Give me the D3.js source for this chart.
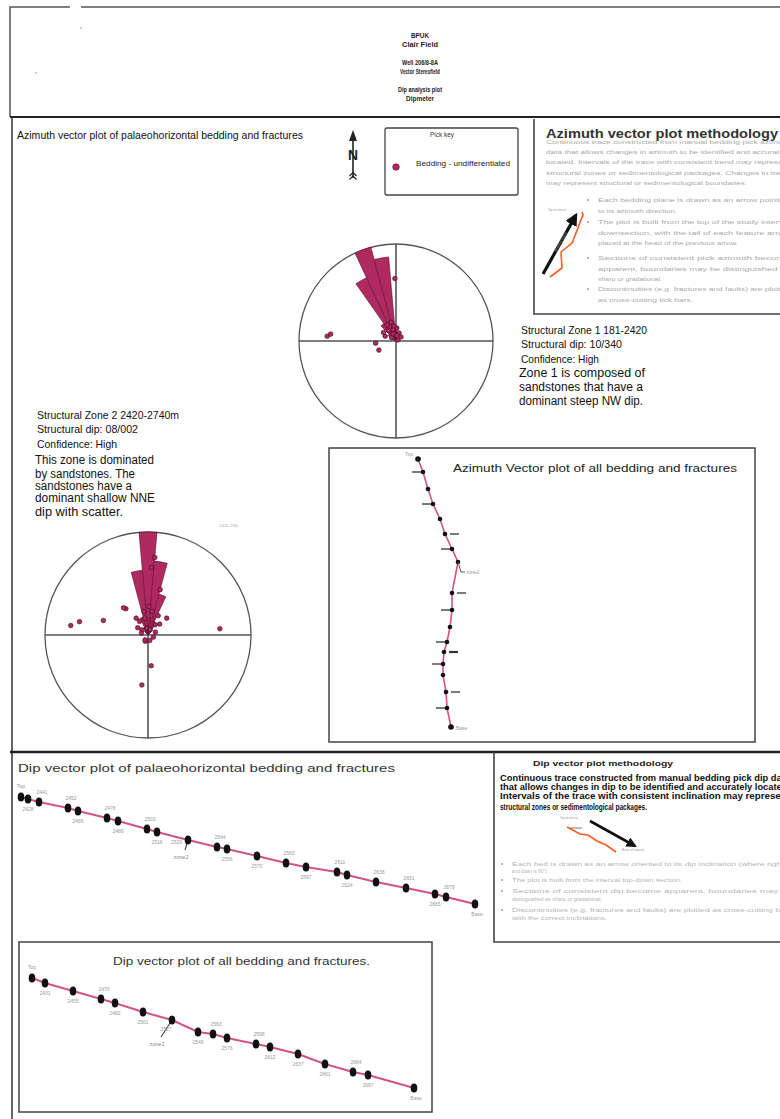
<!DOCTYPE html>
<html><head><meta charset="utf-8">
<script src="https://cdn.jsdelivr.net/npm/d3@7"></script>
<style>html,body{margin:0;padding:0;background:#fff;}svg{display:block;}</style>
</head><body>
<script>
// ---------- data ----------
const headerLines = ["BPUK", "Clair Field", "Well 206/8-8A", "Vector Stereofield", "Dip analysis plot", "Dipmeter"];

// Zone 1 rose: 10-degree azimuth bins (centre) and relative frequency
const rose1Bins = [0, 10, 20, 300, 310, 320, 330, 340, 350];
const rose1Freq = [0.12, 0.06, 0.04, 0.05, 0.10, 0.22, 0.72, 1.00, 0.87];
// Zone 1 picks: dip azimuth and dip
const rose1Az  = [359, 274, 276, 264, 242, 331, 345, 345, 4, 21, 294, 307, 63, 325, 51, 352, 304, 340, 10];
const rose1Dip = [58, 64, 61, 19, 18, 17, 18, 11, 12, 8, 11, 5, 2, 12, 6, 14, 14, 7, 5];

// Zone 2 rose
const rose2Bins = [0, 10, 20, 30, 40, 320, 330, 340, 350];
const rose2Freq = [1.00, 0.72, 0.41, 0.14, 0.06, 0.05, 0.08, 0.18, 0.63];
const rose2Az  = [5, 3, 15, 320, 318, 288, 281, 277, 85, 48, 174, 187, 203, 162,
                  328, 350, 15, 35, 352, 310, 22, 69, 305, 47, 350, 10, 2, 325, 28, 286, 112, 211];
const rose2Dip = [68, 59, 41, 30, 32, 41, 61, 68, 63, 22, 27, 44, 6, 5,
                  14, 15, 14, 11, 6, 7, 5, 7, 11, 14, 21, 21, 25, 18, 19, 6, 5, 5];

// Azimuth vector trace (cumulative east / south units, top to base)
const azEast  = [0, 5, 10, 15, 22, 27, 34, 40, 34, 34, 32, 29, 26, 25, 25, 28, 29, 33];
const azSouth = [0, 13, 30, 45, 60, 75, 90, 103, 134, 151, 168, 183, 193, 205, 216, 233, 249, 268];
const azFracIdx  = [1, 3, 5, 6, 8, 9, 11, 12, 13, 15, 16];
const azFracSide = ["L", "L", "R", "L", "R", "L", "L", "R", "L", "R", "L"];
const azZoneIdx = 7;

// Dip vector trace, palaeohorizontal picks
const dipUpX = [0, 7, 18, 47, 57, 86, 97, 126, 136, 167, 196, 206, 236, 265, 285, 316, 326, 355, 385, 414, 425, 454];
const dipUpY = [0, 2, 5, 11, 14, 21, 24, 32, 35, 43, 50, 52, 59, 66, 70, 75, 78, 85, 91, 97, 100, 107];
const dipUpSide = ["T", "b", "a", "a", "b", "a", "b", "a", "b", "l", "a", "b", "b", "a", "b", "a", "b", "a", "a", "b", "a", "B"];
const dipUpLabel = ["Top", "2428", "2441", "2452", "2466", "2478", "2489", "2503", "2516", "2529", "2544", "2556",
                    "2570", "2583", "2597", "2611", "2624", "2638", "2651", "2665", "2679", "Base"];
const dipUpZoneIdx = 9;

// Dip vector trace, all bedding and fractures
const dipAllX = [0, 13, 41, 69, 83, 111, 140, 166, 181, 195, 224, 238, 266, 293, 321, 336, 382];
const dipAllY = [0, 5, 13, 21, 25, 34, 42, 54, 56, 60, 66, 69, 76, 86, 94, 97, 110];
const dipAllSide = ["T", "b", "b", "a", "b", "b", "r", "b", "a", "b", "a", "b", "b", "b", "a", "b", "B"];
const dipAllLabel = ["Top", "2431", "2455", "2470", "2482", "2501", "2527", "2549", "2563", "2576",
                     "2598", "2612", "2637", "2661", "2684", "2697", "Base"];
const dipAllZoneIdx = 6;

// ---------- styling ----------
const NARROW = "'Liberation Sans Narrow','Arial Narrow','Liberation Sans',Arial,sans-serif";
const SANS = "'Liberation Sans',Arial,sans-serif";
const PETAL = "#b0295f", PETAL_EDGE = "#5c1030", TRACE = "#d4528c", GREYTXT = "#aaaaaa";

const svg = d3.select("body").append("svg").attr("width", 780).attr("height", 1119);
svg.append("rect").attr("width", 780).attr("height", 1119).attr("fill", "#fff");
const defs = svg.append("defs");
defs.append("marker").attr("id", "head").attr("viewBox", "0 0 10 10").attr("refX", 8).attr("refY", 5)
  .attr("markerWidth", 4).attr("markerHeight", 4).attr("orient", "auto")
  .append("path").attr("d", "M0,0 L10,5 L0,10 z").attr("fill", "#111");

function addText(parent, x, y, str, o = {}) {
  const t = parent.append("text").attr("x", x).attr("y", y).text(str)
    .attr("font-family", o.family || NARROW).attr("font-size", o.size || 10)
    .attr("fill", o.fill || "#111").attr("font-weight", o.weight || "normal")
    .attr("text-anchor", o.anchor || "start");
  if (o.len) t.attr("textLength", o.len).attr("lengthAdjust", "spacingAndGlyphs");
  return t;
}
function line(d, w = 1.5, c = "#333") {
  svg.append("path").attr("d", d).attr("fill", "none").attr("stroke", c).attr("stroke-width", w);
}

// ---------- frames ----------
line("M10,117 V7 H70 M81,7 H790", 1.5, "#555");
line("M10,117 H780", 2.2, "#222");
line("M12,117 V1119", 1.5, "#333");
line("M10,752 H780", 2.6, "#222");
line("M534,119 V314 H790", 1.6, "#444");
line("M494,752 V942 H790", 1.6, "#444");
svg.append("rect").attr("x", 329).attr("y", 448).attr("width", 426).attr("height", 294)
  .attr("fill", "none").attr("stroke", "#444").attr("stroke-width", 1.5);
svg.append("rect").attr("x", 19).attr("y", 942).attr("width", 413).attr("height", 170)
  .attr("fill", "none").attr("stroke", "#444").attr("stroke-width", 1.5);
svg.append("rect").attr("x", 385).attr("y", 128).attr("width", 133).attr("height", 67).attr("rx", 2)
  .attr("fill", "none").attr("stroke", "#444").attr("stroke-width", 1.3);

// ---------- header ----------
const headY = [38, 47, 65, 74, 92, 101];
const headW = [18, 36, 36, 40, 44, 28];
headerLines.forEach((s, i) => addText(svg, 420, headY[i], s, {size: 7.5, weight: "bold", anchor: "middle", len: headW[i], fill: "#222"}));
svg.append("circle").attr("cx", 81).attr("cy", 28).attr("r", 0.8).attr("fill", "#4c4");
svg.append("circle").attr("cx", 36).attr("cy", 73).attr("r", 0.8).attr("fill", "#4c4");

// ---------- azimuth section heading, north arrow, legend ----------
addText(svg, 17, 139, "Azimuth vector plot of palaeohorizontal bedding and fractures", {size: 10, len: 286});
line("M353,178 V136", 1.6, "#222");
svg.append("path").attr("d", "M349,141 L353,130 L357,141 Z").attr("fill", "#222");
addText(svg, 353, 160, "N", {size: 15, weight: "bold", anchor: "middle", len: 10, fill: "#222"});
line("M349.5,176 L353,172.5 L356.5,176 M349.5,179.5 L353,176 L356.5,179.5", 1.2, "#222");
addText(svg, 442, 137, "Pick key", {size: 7, anchor: "middle", len: 24, fill: "#333"});
svg.append("circle").attr("cx", 396).attr("cy", 167).attr("r", 3.3).attr("fill", PETAL).attr("stroke", PETAL_EDGE).attr("stroke-width", 0.6);
addText(svg, 416, 166, "Bedding - undifferentiated", {size: 8, len: 94, fill: "#222"});

// ---------- azimuth methodology box ----------
addText(svg, 546, 138, "Azimuth vector plot methodology", {size: 12.5, weight: "bold", len: 232, family: SANS, fill: "#333"});
const azPara = [
  ["Continuous trace constructed from manual bedding pick azimuth", 244],
  ["data that allows changes in azimuth to be identified and accurately", 244],
  ["located. Intervals of the trace with consistent trend may represent", 244],
  ["structural zones or sedimentological packages. Changes in trend", 244],
  ["may represent structural or sedimentological boundaries.", 201]];
const azParaY = [144, 154, 164, 175, 185];
azPara.forEach((p, i) => addText(svg, 546, azParaY[i], p[0], {size: 6, fill: GREYTXT, len: p[1], family: SANS}));
const azBullets = [
  [["Each bedding plane is drawn as an arrow pointing", 192], ["to its azimuth direction.", 79]],
  [["The plot is built from the top of the study interval", 192], ["downsection, with the tail of each feature arrow", 192], ["placed at the head of the previous arrow.", 140]],
  [["Sections of consistent pick azimuth become", 192], ["apparent, boundaries may be distinguished as", 192], ["sharp or gradational.", 64]],
  [["Discontinuities (e.g. fractures and faults) are plotted", 192], ["as cross-cutting tick bars.", 95]]];
const azBulletY = [202, 224, 260, 291];
azBullets.forEach((b, i) => {
  svg.append("circle").attr("cx", 588).attr("cy", azBulletY[i] - 2).attr("r", 1).attr("fill", "#999");
  b.forEach((l, j) => addText(svg, 598, azBulletY[i] + j * 10.5, l[0], {size: 6, fill: GREYTXT, len: l[1], family: SANS}));
});
// illustration: feature arrow and trace
svg.append("path").attr("d", "M543,274 L576,215").attr("stroke", "#111").attr("stroke-width", 3.2).attr("marker-end", "url(#head)");
line("M550,277 L562,268 L561,252 L572,243 L578,228 L580,222 L583,215 L582,212", 1.6, "#ff5a1f");
addText(svg, 548, 211, "Top of interval", {size: 3.5, fill: "#999", len: 18});
addText(svg, 556, 252, "Bedding plane", {size: 3.5, fill: "#999", len: 22}).attr("transform", "rotate(-60,556,252)");

// ---------- zone descriptions ----------
const z1 = [["Structural Zone 1 181-2420", 126, 11], ["Structural dip: 10/340", 101, 11], ["Confidence: High", 78, 11],
            ["Zone 1 is composed of", 126, 12], ["sandstones that have a", 124, 12], ["dominant steep NW dip.", 124, 12]];
const z1Y = [334, 348, 363, 377, 391, 405];
const z1X = [521, 521, 521, 519, 519, 519];
z1.forEach((l, i) => addText(svg, z1X[i], z1Y[i], l[0], {size: l[2], len: l[1]}));
const z2 = [["Structural Zone 2 2420-2740m", 142, 11], ["Structural dip: 08/002", 101, 11], ["Confidence: High", 80, 11],
            ["This zone is dominated", 119, 12], ["by sandstones. The", 100, 12], ["sandstones have a", 97, 12],
            ["dominant shallow NNE", 120, 12], ["dip with scatter.", 88, 12]];
const z2Y = [419, 433, 448, 464, 478, 490, 502, 516];
const z2X = [37, 37, 37, 35, 35, 35, 35, 35];
z2.forEach((l, i) => addText(svg, z2X[i], z2Y[i], l[0], {size: l[2], len: l[1]}));

// ---------- rose diagrams ----------
function drawRose(cx, cy, R, bins, freq, az, dip) {
  const g = svg.append("g").attr("transform", `translate(${cx},${cy})`);
  const rFreq = d3.scaleLinear().domain([0, 1]).range([0, R]);
  const rDip = d3.scaleLinear().domain([0, 90]).range([0, R]);
  const rad = d3.scaleLinear().domain([0, 360]).range([0, 2 * Math.PI]);
  g.append("circle").attr("r", R).attr("fill", "none").attr("stroke", "#555").attr("stroke-width", 1.3);
  g.append("path").attr("d", `M${-R},0 H${R} M0,${-R} V${R}`).attr("stroke", "#555").attr("stroke-width", 1.6);
  const arc = d3.arc().innerRadius(0);
  g.selectAll("path.petal").data(bins.map((b, i) => ({b, f: freq[i]}))).join("path")
    .attr("class", "petal")
    .attr("d", d => arc({startAngle: rad(d.b - 5), endAngle: rad(d.b + 5), outerRadius: rFreq(d.f)}))
    .attr("fill", PETAL).attr("stroke", PETAL_EDGE).attr("stroke-width", 0.6);
  g.selectAll("circle.pick").data(az.map((a, i) => d3.pointRadial(rad(a), rDip(dip[i])))).join("circle")
    .attr("class", "pick").attr("cx", d => d[0]).attr("cy", d => d[1]).attr("r", 2.3)
    .attr("fill", PETAL).attr("stroke", "#3a0a1c").attr("stroke-width", 0.6);
  return g;
}
drawRose(396, 341, 97, rose1Bins, rose1Freq, rose1Az, rose1Dip);
drawRose(148, 635, 103, rose2Bins, rose2Freq, rose2Az, rose2Dip);
addText(svg, 229, 527, "2420-2740", {size: 4, fill: "#aaa", anchor: "middle"});

// ---------- azimuth vector plot ----------
addText(svg, 453, 472, "Azimuth Vector plot of all bedding and fractures", {size: 11.5, len: 284, fill: "#222"});
const axX = d3.scaleLinear().domain([0, 100]).range([418, 518]);
const axY = d3.scaleLinear().domain([0, 268]).range([459, 727]);
const azPts = azEast.map((e, i) => [axX(e), axY(azSouth[i])]);
svg.append("path").attr("d", d3.line()(azPts)).attr("fill", "none").attr("stroke", TRACE).attr("stroke-width", 1.6);
azFracIdx.forEach((k, i) => {
  const [x, y] = azPts[k];
  const d = azFracSide[i] === "L" ? `M${x - 11},${y} H${x - 1}` : `M${x + 5},${y} H${x + 14}`;
  line(d, k === 12 ? 2.2 : 1.3, "#333");
});
svg.selectAll("circle.azpt").data(azPts).join("circle").attr("class", "azpt")
  .attr("cx", d => d[0]).attr("cy", d => d[1]).attr("r", (d, i) => (i === 0 || i === azPts.length - 1) ? 2.8 : 2.3).attr("fill", "#111");
{
  const [x, y] = azPts[azZoneIdx];
  line(`M${x},${y} L${x + 3},${y + 10} H${x + 7}`, 1, "#555");
  addText(svg, x + 8, y + 12, "zone2", {size: 5, fill: "#999"});
  addText(svg, azPts[0][0] - 5, azPts[0][1] - 3, "Top", {size: 5, fill: "#999", anchor: "end"});
  const b = azPts[azPts.length - 1];
  addText(svg, b[0] + 5, b[1] + 3, "Base", {size: 5, fill: "#999"});
}

// ---------- dip vector plots ----------
function drawDip(xs, ys, sides, labels, zoneIdx, xr, yr, zoneDx, zoneDy) {
  const sx = d3.scaleLinear().domain([0, d3.max(xs)]).range(xr);
  const sy = d3.scaleLinear().domain([0, d3.max(ys)]).range(yr);
  const pts = xs.map((x, i) => [sx(x), sy(ys[i])]);
  svg.append("path").attr("d", d3.line()(pts)).attr("fill", "none").attr("stroke", TRACE).attr("stroke-width", 2);
  const [zx, zy] = pts[zoneIdx];
  line(`M${zx},${zy} L${zx + zoneDx},${zy + zoneDy}`, 1.1, "#444");
  addText(svg, zx + zoneDx - 4, zy + zoneDy + 9, "zone2", {size: 5.5, fill: "#888", anchor: "middle"});
  svg.selectAll(null).data(pts).join("ellipse")
    .attr("cx", d => d[0]).attr("cy", d => d[1]).attr("rx", 3.3).attr("ry", 4.6).attr("fill", "#111");
  pts.forEach((p, i) => {
    const s = sides[i];
    let x = p[0], y = p[1], anchor = "middle";
    if (s === "a") { y -= 8; x += 3; }
    else if (s === "b") { y += 12; }
    else if (s === "l") { x -= 6; y += 4; anchor = "end"; }
    else if (s === "r") { x -= 6; y += 11; }
    else if (s === "T") { y -= 9; }
    else if (s === "B") { y += 12; x += 2; }
    addText(svg, x, y, labels[i], {size: 5, fill: "#9a9a9a", anchor});
  });
}
addText(svg, 18, 772, "Dip vector plot of palaeohorizontal bedding and fractures", {size: 11.5, len: 377, family: SANS, fill: "#333"});
drawDip(dipUpX, dipUpY, dipUpSide, dipUpLabel, dipUpZoneIdx, [21, 475], [797, 904], -3, 10);
addText(svg, 113, 965, "Dip vector plot of all bedding and fractures.", {size: 11.5, len: 257, family: SANS, fill: "#333"});
drawDip(dipAllX, dipAllY, dipAllSide, dipAllLabel, dipAllZoneIdx, [32, 414], [978, 1088], -11, 17);

// ---------- dip methodology box ----------
addText(svg, 533, 766, "Dip vector plot methodology", {size: 8, weight: "bold", len: 140, fill: "#222"});
const dipPara = [["Continuous trace constructed from manual bedding pick dip data", 290],
                 ["that allows changes in dip to be identified and accurately located.", 290],
                 ["Intervals of the trace with consistent inclination may represent", 290],
                 ["structural zones or sedimentological packages.", 147]];
const dipParaY = [781, 790, 799, 810];
dipPara.forEach((p, i) => addText(svg, 500, dipParaY[i], p[0], {size: 8.5, weight: "bold", len: p[1]}));
svg.append("path").attr("d", "M590,821 L635,846").attr("stroke", "#111").attr("stroke-width", 2.6).attr("marker-end", "url(#head)");
line("M567,827 L580,834 L588,835 L597,841 L606,845 L616,852", 1.6, "#ff5a1f");
line("M570,828 L582,828", 1, "#777");
addText(svg, 560, 819, "Top of interval", {size: 3.5, fill: "#999", len: 18});
addText(svg, 622, 851, "Base of interval", {size: 3.5, fill: "#999", len: 22});
const dipBul = [
  [866, "Each bed is drawn as an arrow oriented to its dip inclination (where right is", 280, true],
  [873, "and down is 90°).", 36, false],
  [882, "The plot is built from the interval top-down section.", 170, true],
  [893, "Sections of consistent dip become apparent, boundaries may be", 280, true],
  [901, "distinguished as sharp or gradational.", 90, false],
  [912, "Discontinuities (e.g. fractures and faults) are plotted as cross-cutting bars", 280, true],
  [920, "with the correct inclinations.", 95, false]];
dipBul.forEach(b => {
  if (b[3]) svg.append("circle").attr("cx", 502).attr("cy", b[0] - 2).attr("r", 1).attr("fill", "#999");
  addText(svg, 512, b[0], b[1], {size: 5.5, fill: "#b5b5b5", len: b[2], family: SANS});
});
</script>
</body></html>
